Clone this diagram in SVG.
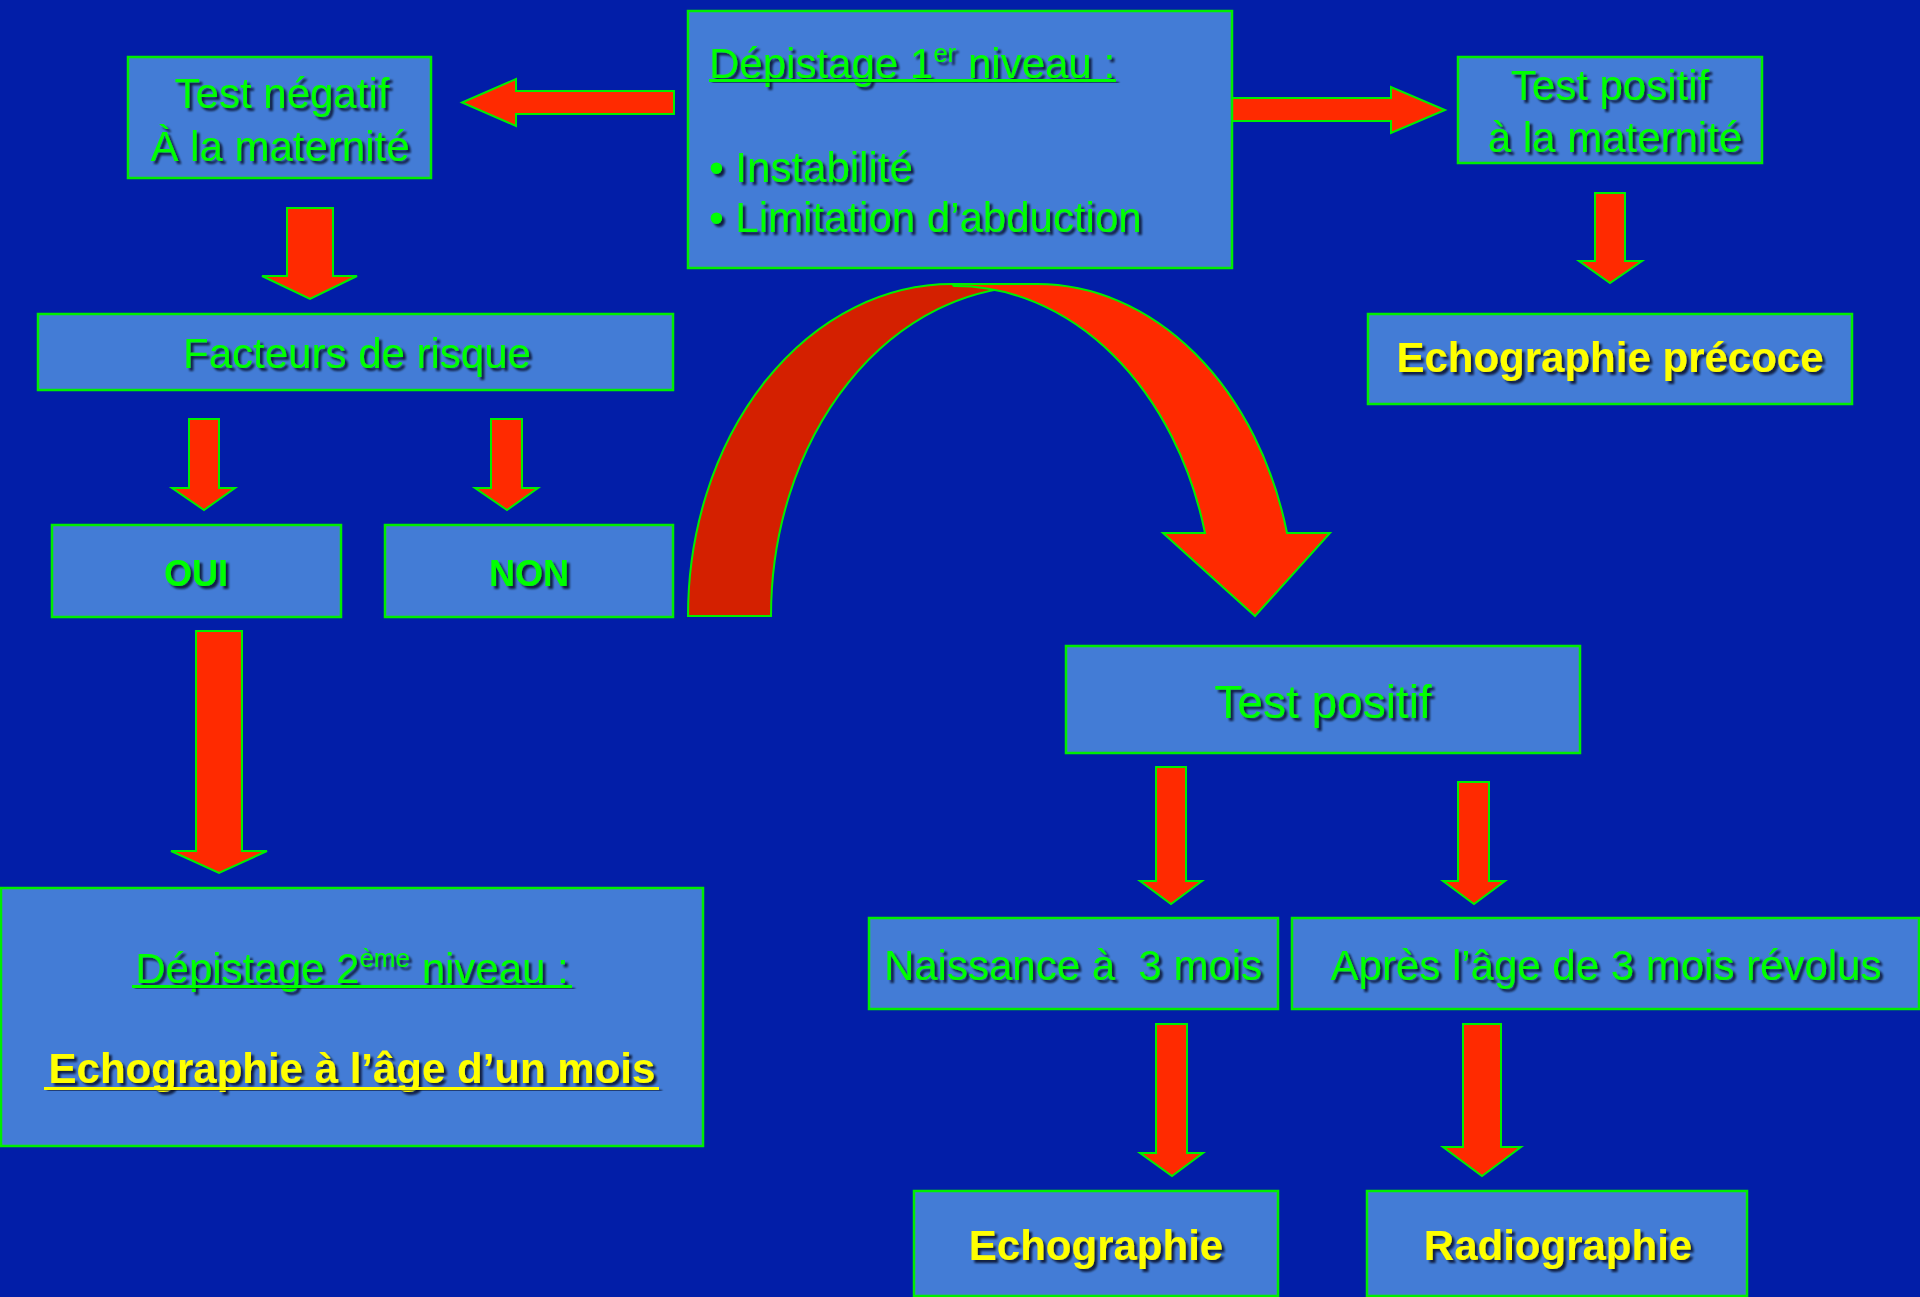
<svg xmlns="http://www.w3.org/2000/svg" width="1920" height="1297" viewBox="0 0 1920 1297">
<defs>
<filter id="sh" x="-10%" y="-30%" width="120%" height="160%">
<feDropShadow dx="3" dy="3" stdDeviation="1.2" flood-color="#000018" flood-opacity="0.75"/>
</filter>
<style>
.box{fill:#437CD6;stroke:#00EE00;stroke-width:2.5}
.arr{fill:#FF2A00;stroke:#00EE00;stroke-width:2;stroke-linejoin:miter}
.arrd{fill:#D42000;stroke:#00EE00;stroke-width:2}
.g{fill:#00FF00;font-family:"Liberation Sans",Arial,sans-serif;font-size:42px;filter:url(#sh)}
.y{fill:#FFFF00;font-family:"Liberation Sans",Arial,sans-serif;font-size:42px;font-weight:bold;filter:url(#sh)}
.c{text-anchor:middle}
.b{font-weight:bold}
.s36{font-size:36px}
.s46{font-size:46px}
</style>
</defs>
<rect x="0" y="0" width="1920" height="1297" fill="#021EA8"/>

<g id="connectors">
<polygon class="arr" points="674,91 516,91 516,79 462,102.5 516,126 516,114 674,114"/>
<polygon class="arr" points="1232,98 1391,98 1391,87 1445,110 1391,133 1391,121 1232,121"/>
<polygon class="arr" points="287,208 333,208 333,276 357,276 310,299 262,276 287,276"/>
<polygon class="arr" points="1595,193 1625,193 1625,261 1642,261 1610,283 1579,261 1595,261"/>
<polygon class="arr" points="189,419 219,419 219,488 235,488 204,510 172,488 189,488"/>
<polygon class="arr" points="491,419 522,419 522,488 538,488 507,510 475,488 491,488"/>
<polygon class="arr" points="196,631 242,631 242,851 267,851 219,873 171,851 196,851"/>
<polygon class="arr" points="1156,767 1186,767 1186,881 1202,881 1171,904 1140,881 1156,881"/>
<polygon class="arr" points="1458,782 1489,782 1489,881 1505,881 1474,904 1443,881 1458,881"/>
<polygon class="arr" points="1156,1024 1187,1024 1187,1153 1203,1153 1172,1176 1140,1153 1156,1153"/>
<polygon class="arr" points="1463,1024 1501,1024 1501,1147 1521,1147 1482,1176 1443,1147 1463,1147"/>
<path class="arrd" d="M688,616 A264,332 0 0 1 952,284 L1035,284 L1035,286 A264,330 0 0 0 771,616 Z"/>
<path class="arr" d="M952,284 L1037,284 A258,332 0 0 1 1287,533 L1330,533 L1255,616 L1163,533 L1205,533 A258,330 0 0 0 954,286 Z"/>
</g>

<g id="node-depistage1">
<rect class="box" x="688" y="11" width="544" height="257"/>
<text class="g" x="709" y="78">Dépistage 1<tspan font-size="26" dy="-16">er</tspan><tspan dy="16"> niveau :</tspan></text>
<rect x="709" y="79" width="407" height="3" fill="#00FF00" filter="url(#sh)"/>
<text class="g" x="709" y="182">• Instabilité</text>
<text class="g" x="709" y="232">• Limitation d’abduction</text>
</g>

<g id="node-test-negatif">
<rect class="box" x="128" y="57" width="303" height="121"/>
<text class="g c" x="282" y="108">Test négatif</text>
<text class="g c" x="280" y="161">À la maternité</text>
</g>

<g id="node-test-positif-maternite">
<rect class="box" x="1458" y="57" width="304" height="106"/>
<text class="g c" x="1610" y="100">Test positif</text>
<text class="g c" x="1615" y="152">à la maternité</text>
</g>

<g id="node-echo-precoce">
<rect class="box" x="1368" y="314" width="484" height="90"/>
<text class="y c" x="1610" y="372">Echographie précoce</text>
</g>

<g id="node-facteurs">
<rect class="box" x="38" y="314" width="635" height="76"/>
<text class="g c" x="357" y="368">Facteurs de risque</text>
</g>

<g id="node-oui">
<rect class="box" x="52" y="525" width="289" height="92"/>
<text class="g c b s36" x="196" y="586">OUI</text>
</g>

<g id="node-non">
<rect class="box" x="385" y="525" width="288" height="92"/>
<text class="g c b s36" x="529" y="586">NON</text>
</g>

<g id="node-depistage2">
<rect class="box" x="1" y="888" width="702" height="258"/>
<text class="g c" x="352" y="983">Dépistage 2<tspan font-size="26" dy="-16">ème</tspan><tspan dy="16"> niveau :</tspan></text>
<rect x="132" y="985" width="440" height="3" fill="#00FF00" filter="url(#sh)"/>
<text class="y c" x="352" y="1083">Echographie à l’âge d’un mois</text>
<rect x="44" y="1087" width="615" height="3" fill="#FFFF00" filter="url(#sh)"/>
</g>

<g id="node-test-positif">
<rect class="box" x="1066" y="646" width="514" height="107"/>
<text class="g c s46" x="1323" y="718">Test positif</text>
</g>

<g id="node-naissance">
<rect class="box" x="869" y="918" width="409" height="91"/>
<text class="g c" x="1073" y="980" xml:space="preserve">Naissance à  3 mois</text>
</g>

<g id="node-apres">
<rect class="box" x="1292" y="918" width="627" height="91"/>
<text class="g c" x="1606" y="980">Après l’âge de 3 mois révolus</text>
</g>

<g id="node-echographie">
<rect class="box" x="914" y="1191" width="364" height="105"/>
<text class="y c" x="1096" y="1260">Echographie</text>
</g>

<g id="node-radiographie">
<rect class="box" x="1367" y="1191" width="380" height="105"/>
<text class="y c" x="1558" y="1260">Radiographie</text>
</g>
</svg>
